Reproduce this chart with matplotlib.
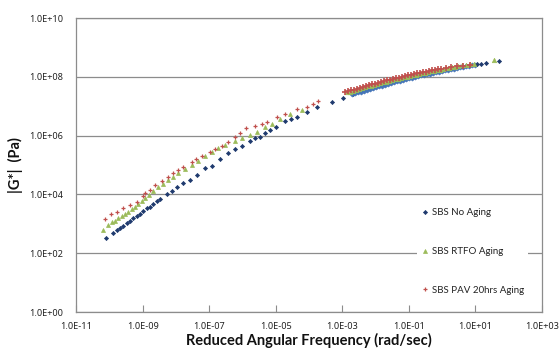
import numpy as np
import matplotlib
matplotlib.use("Agg")
import matplotlib.pyplot as plt
from matplotlib.ticker import FixedLocator, FuncFormatter, NullLocator

# ---- data (log10 of reduced angular frequency [rad/s] and |G*| [Pa]) ----
# SBS No Aging: low-frequency sparse points
no_aging_lowf_logw = [-10.108, -9.880, -9.777, -9.678, -9.579, -9.477, -9.378, -9.279, -9.177, -9.078,
                      -8.978, -8.858, -8.777, -8.687, -8.567, -8.477, -8.276, -8.125, -7.975, -7.777,
                      -7.576, -7.374, -7.125, -6.924, -6.674, -6.425, -6.224, -6.022, -5.773, -5.623,
                      -5.473, -5.323, -5.172, -4.992, -4.722, -4.542, -4.361, -4.070, -3.770, -3.319,
                      -2.970, -2.670]
no_aging_lowf_logG = [2.507, 2.694, 2.776, 2.857, 2.939, 3.020, 3.102, 3.184, 3.265, 3.347,
                      3.425, 3.524, 3.588, 3.667, 3.762, 3.837, 4.000, 4.126, 4.241, 4.378,
                      4.490, 4.660, 4.888, 4.976, 5.194, 5.398, 5.534, 5.646, 5.816, 5.908,
                      5.963, 6.078, 6.190, 6.303, 6.497, 6.565, 6.643, 6.800, 6.963, 7.133,
                      7.269, 7.405]
# SBS No Aging: dense high-frequency band
no_aging_band_logw = [-2.709, -2.619, -2.529, -2.439, -2.349, -2.259, -2.168, -2.078, -1.988, -1.898,
                      -1.808, -1.718, -1.628, -1.538, -1.448, -1.357, -1.267, -1.177, -1.087, -0.997,
                      -0.907, -0.817, -0.727, -0.637, -0.546, -0.456, -0.366, -0.276, -0.186, -0.096,
                      -0.006, 0.084, 0.174, 0.265, 0.355, 0.445, 0.535, 0.625, 0.715, 0.805,
                      0.895, 0.985]
no_aging_band_logG = [7.405, 7.435, 7.466, 7.497, 7.524, 7.554, 7.585, 7.616, 7.646, 7.677,
                      7.704, 7.731, 7.762, 7.789, 7.816, 7.844, 7.871, 7.898, 7.925, 7.949,
                      7.973, 8.000, 8.024, 8.048, 8.068, 8.088, 8.109, 8.129, 8.153, 8.173,
                      8.197, 8.218, 8.238, 8.259, 8.279, 8.299, 8.320, 8.340, 8.361, 8.381,
                      8.401, 8.418]
no_aging_tail_logw = [1.046, 1.166, 1.316, 1.707]
no_aging_tail_logG = [8.435, 8.452, 8.486, 8.537]

# SBS RTFO Aging
rtfo_lowf_logw = [-10.198, -10.030, -9.928, -9.829, -9.729, -9.627, -9.528, -9.429, -9.327, -9.228,
                  -9.129, -9.026, -8.927, -8.807, -8.687, -8.537, -8.387, -8.236, -8.086, -7.936,
                  -7.726, -7.525, -7.326, -7.125, -6.924, -6.725, -6.524, -6.224, -6.022, -5.773,
                  -5.572, -5.323, -5.121, -4.872, -4.572, -4.220]
rtfo_lowf_logG = [2.789, 2.959, 3.051, 3.105, 3.187, 3.265, 3.333, 3.412, 3.493, 3.582,
                  3.673, 3.776, 3.867, 3.980, 4.099, 4.235, 4.370, 4.490, 4.600, 4.715,
                  4.860, 5.000, 5.140, 5.290, 5.430, 5.570, 5.690, 5.816, 5.935, 6.037,
                  6.133, 6.282, 6.395, 6.560, 6.730, 6.871]
rtfo_band_logw = [-2.859, -2.769, -2.679, -2.589, -2.499, -2.409, -2.319, -2.229, -2.139, -2.049,
                  -1.958, -1.868, -1.778, -1.688, -1.598, -1.508, -1.418, -1.328, -1.237, -1.147,
                  -1.057, -0.967, -0.877, -0.787, -0.697, -0.607, -0.516, -0.426, -0.336, -0.246,
                  -0.156, -0.066, 0.024, 0.114, 0.204, 0.295, 0.385, 0.475,
                  0.595, 0.715, 0.835, 0.955, 1.571]
rtfo_band_logG = [7.466, 7.497, 7.527, 7.558, 7.585, 7.616, 7.643, 7.673, 7.701, 7.728,
                  7.755, 7.782, 7.810, 7.837, 7.861, 7.888, 7.912, 7.935, 7.959, 7.983,
                  8.007, 8.031, 8.054, 8.075, 8.099, 8.119, 8.143, 8.163, 8.187, 8.207,
                  8.228, 8.248, 8.269, 8.289, 8.310, 8.330, 8.347, 8.367,
                  8.391, 8.415, 8.432, 8.452, 8.561]

# SBS PAV 20hrs Aging
pav_lowf_logw = [-10.129, -9.958, -9.777, -9.579, -9.378, -9.177, -8.996, -8.927, -8.777, -8.627,
                 -8.426, -8.227, -8.086, -7.927, -7.777, -7.525, -7.395, -7.224, -6.975, -6.825,
                 -6.623, -6.425, -6.224, -6.074, -5.893, -5.623, -5.422, -5.272, -4.971, -4.722,
                 -4.370, -4.070, -3.872, -3.722]
pav_lowf_logG = [3.153, 3.323, 3.391, 3.527, 3.639, 3.752, 3.956, 4.058, 4.150, 4.303,
                 4.456, 4.592, 4.711, 4.830, 4.942, 5.112, 5.204, 5.316, 5.452, 5.534,
                 5.663, 5.793, 5.952, 6.088, 6.259, 6.327, 6.395, 6.452, 6.622, 6.724,
                 6.895, 6.983, 7.075, 7.177]
pav_band_logw = [-2.920, -2.829, -2.739, -2.649, -2.559, -2.469, -2.379, -2.289, -2.199, -2.108,
                 -2.018, -1.928, -1.838, -1.748, -1.658, -1.568, -1.478, -1.387, -1.297, -1.207,
                 -1.117, -1.027, -0.937, -0.847, -0.757, -0.667, -0.576, -0.486, -0.396, -0.306,
                 -0.216, -0.126, -0.036, 0.114, 0.265, 0.445, 0.625, 0.835]
pav_band_logG = [7.476, 7.507, 7.537, 7.568, 7.595, 7.626, 7.656, 7.684, 7.711, 7.741,
                 7.769, 7.796, 7.823, 7.850, 7.878, 7.901, 7.929, 7.952, 7.976, 8.000,
                 8.024, 8.048, 8.071, 8.095, 8.116, 8.136, 8.156, 8.177, 8.197, 8.218,
                 8.238, 8.255, 8.272, 8.299, 8.327, 8.357, 8.381, 8.405]

labels = ["SBS No Aging", "SBS RTFO Aging", "SBS PAV 20hrs Aging"]
x_tick_exps = [-11, -9, -7, -5, -3, -1, 1, 3]
y_tick_exps = [0, 2, 4, 6, 8, 10]

# ---- figure ----
plt.rcParams['font.family'] = ['Lato', 'DejaVu Sans']
W, H = 560, 348
fig = plt.figure(figsize=(W / 100, H / 100), dpi=100)
L, R, T, B = 76, 542, 18, 312
ax = fig.add_axes([L / W, 1 - B / H, (R - L) / W, (B - T) / H])

p10 = lambda a: np.power(10.0, np.asarray(a))

navy = '#1F3A6E'
band_blue = '#4374B8'
green = '#9BBB59'
red = '#C0504D'

ax.plot(p10(no_aging_lowf_logw), p10(no_aging_lowf_logG), ls='none', marker='D', ms=2.1,
        color=navy, mec=navy, mew=0.5, label=labels[0], zorder=3)
ax.plot(p10(no_aging_band_logw), p10(no_aging_band_logG), ls='none', marker='D', ms=2.6,
        color=band_blue, mec=band_blue, mew=0.5, zorder=3)
ax.plot(p10(no_aging_tail_logw), p10(no_aging_tail_logG), ls='none', marker='D', ms=2.1,
        color=navy, mec=navy, mew=0.5, zorder=3)

ax.plot(p10(rtfo_lowf_logw), p10(rtfo_lowf_logG), ls='none', marker='^', ms=2.9,
        color=green, mec=green, mew=0.5, label=labels[1], zorder=4)
ax.plot(p10(rtfo_band_logw), p10(rtfo_band_logG), ls='none', marker='^', ms=3.2,
        color=green, mec=green, mew=0.5, zorder=4)

ax.plot(p10(pav_lowf_logw), p10(pav_lowf_logG), ls='none', marker='+', ms=3.4, mew=0.9,
        color=red, label=labels[2], zorder=5)
ax.plot(p10(pav_band_logw), p10(pav_band_logG), ls='none', marker='+', ms=4.0, mew=1.2,
        color=red, zorder=5)

ax.set_xscale('log')
ax.set_yscale('log')
ax.set_xlim(1e-11, 1e3)
ax.set_ylim(1e0, 1e10)

ax.xaxis.set_major_locator(FixedLocator([10.0 ** e for e in x_tick_exps]))
ax.yaxis.set_major_locator(FixedLocator([10.0 ** e for e in y_tick_exps]))
ax.xaxis.set_minor_locator(NullLocator())
ax.yaxis.set_minor_locator(NullLocator())
fmt = FuncFormatter(lambda v, pos: "1.0E{:+03d}".format(int(round(np.log10(v)))))
ax.xaxis.set_major_formatter(fmt)
ax.yaxis.set_major_formatter(fmt)

ax.tick_params(axis='x', direction='in', length=5, width=0.8, color='#8C8C8C',
               labelsize=6.6, labelcolor='#222222', pad=7)
ax.tick_params(axis='y', length=0, labelsize=6.6, labelcolor='#222222', pad=9)
for lab in ax.get_xticklabels() + ax.get_yticklabels():
    lab.set_family(['Noto Sans', 'DejaVu Sans'])

ax.grid(True, axis='y', color='#8C8C8C', lw=0.9)
ax.set_axisbelow(True)
for side in ['left', 'right', 'top', 'bottom']:
    ax.spines[side].set_color('#8C8C8C')
    ax.spines[side].set_linewidth(0.9)

leg = ax.legend(loc='center left', bbox_to_anchor=((417 - L) / (R - L), (B - 251.5) / (B - T)),
                frameon=True, fontsize=7, labelspacing=3.05, handlelength=0.8,
                handletextpad=0.35, borderpad=0.4, borderaxespad=0, markerscale=1.0)
leg.get_frame().set_facecolor('white')
leg.get_frame().set_edgecolor('none')
leg.get_frame().set_alpha(1)
leg.get_frame().set_boxstyle('square', pad=0)
for t in leg.get_texts():
    t.set_color('#222222')

fig.text(309 / W, 1 - 340 / H, "Reduced Angular Frequency (rad/sec)", ha='center', va='center',
         fontsize=10.5, fontweight='bold', color='#111111')
fig.text(15 / W, 1 - 165 / H, "|G*|  (Pa)", ha='center', va='center', rotation=90,
         fontsize=10.5, fontweight='bold', color='#111111')

fig.savefig('out.png', dpi=100, facecolor='white')
